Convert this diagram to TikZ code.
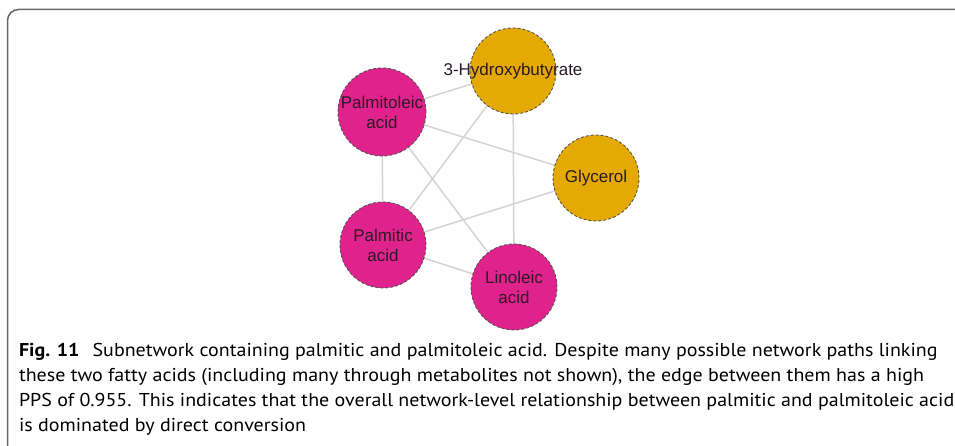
\documentclass[tikz,border=0pt]{standalone}
\usepackage{fontspec}
\setsansfont{Liberation Sans}
\newfontfamily\capfont[FakeStretch=1.075]{PT Sans}
\usepackage{tikz}
\usetikzlibrary{backgrounds}

\definecolor{acidpink}{HTML}{E0228C}
\definecolor{ketogold}{HTML}{E5A903}
\definecolor{edgegray}{HTML}{D4D4D4}
\definecolor{rimgray}{HTML}{555555}
\definecolor{framegray}{HTML}{666666}
\definecolor{labelink}{HTML}{2A1A26}

\begin{document}
\begin{tikzpicture}[x=1pt,y=-1pt,
    every node/.style={outer sep=0pt},
    metab/.style={circle, minimum size=86pt, inner sep=0pt, draw=rimgray, densely dashed, line width=0.9pt,
        font=\sffamily\fontsize{17}{20}\selectfont, text=labelink, align=center},
    acid/.style={metab, fill=acidpink},
    keto/.style={metab, fill=ketogold},
    link/.style={draw=edgegray, line width=1.5pt}]
    \useasboundingbox (0,0) rectangle (955,446);

    % frame
    \draw[framegray, line width=1.5pt, rounded corners=11pt] (7.5,446) -- (7.5,9.5) -- (955,9.5);

    % metabolites
    \node[keto] (hb)  at (513,71)  {\makebox[0pt]{3-Hydroxybutyrate}};
    \node[acid] (pol) at (382,112) {Palmitoleic\\acid};
    \node[keto] (gly) at (596,178) {Glycerol};
    \node[acid] (pal) at (383,245) {Palmitic\\acid};
    \node[acid] (lin) at (514,287) {Linoleic\\acid};

    % edges
    \begin{scope}[on background layer]
    \path[link] (pol.center) -- (hb.center);
    \path[link] (pol.center) -- (gly.center);
    \path[link] (pol.center) -- (pal.center);
    \path[link] (pol.center) -- (lin.center);
    \path[link] (hb.center) -- (pal.center);
    \path[link] (hb.center) -- (lin.center);
    \path[link] (gly.center) -- (pal.center);
    \path[link] (pal.center) -- (lin.center);
    \end{scope}

    % caption
    \node[anchor=north west, inner sep=0pt, align=left, font=\capfont\fontsize{18.6}{25}\selectfont] (cap) at (19,343)
        {\textbf{Fig. 11}\hspace{0.7em}Subnetwork containing palmitic and palmitoleic acid. Despite many possible network paths linking\\
         these two fatty acids (including many through metabolites not shown), the edge between them has a high\\
         PPS of 0.955. This indicates that the overall network-level relationship between palmitic and palmitoleic acid\\
         is dominated by direct conversion};
\end{tikzpicture}
\end{document}
